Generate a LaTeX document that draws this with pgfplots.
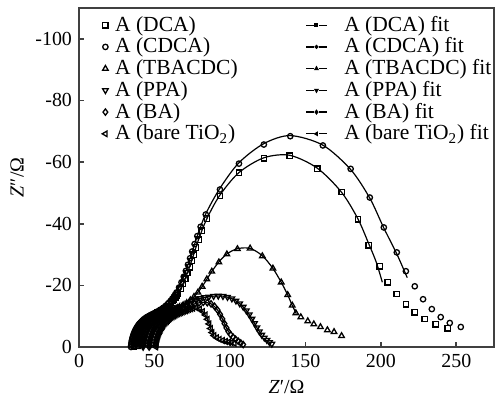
\documentclass[border=0pt]{standalone}
\usepackage{fontspec}
\setmainfont{Liberation Serif}
\usepackage{pgfplots}
\pgfplotsset{compat=1.18}

\pgfplotsset{
  datamark/.style={only marks, black, line width=0.65pt, mark size=1.35pt,
    mark options={fill=none}},
  fitline/.style={black, line width=0.6pt, no marks, smooth},
  dataleg/.style={legend image code/.code={\draw[##1] plot coordinates {(0cm,0cm)};}},
  fitleg/.style={legend image code/.code={%
    \draw[##1,mark=none] (0cm,0cm)--(0.13cm,0cm) (0.23cm,0cm)--(0.36cm,0cm);
    \draw[##1] plot coordinates {(0.18cm,0cm)};}},
}

\begin{document}
\begin{tikzpicture}
\begin{axis}[
  scale only axis, width=207.5bp, height=169.5bp,
  xmin=0, xmax=275, ymin=-110, ymax=0, y dir=reverse,
  xtick={0,50,...,250}, ytick={0,-20,...,-100},
  xtick pos=left, ytick pos=left,
  tick align=inside, major tick length=2.5pt,
  axis line style={black!75, line width=0.9pt},
  every tick/.style={black!75, line width=0.8pt},
  /pgf/number format/assume math mode=true,
  tick label style={font=\fontsize{10}{12}\selectfont},
  label style={font=\fontsize{10}{12}\selectfont},
  xlabel={\textit{Z}′/Ω},
  ylabel={\textit{Z}″/Ω},
  xlabel style={at={(axis description cs:0.5,-0.118)}, anchor=center},
  ylabel style={at={(axis description cs:-0.149,0.5)}, anchor=center},
  legend columns=2, legend cell align=left,
  legend style={at={(axis description cs:0.055,0.989)}, anchor=north west,
    draw=none, fill=none, inner sep=0pt, row sep=-2.2pt,
    font=\fontsize{10.8}{12}\selectfont,
    /tikz/column 1/.style={column sep=1.5bp},
    /tikz/column 2/.style={column sep=32bp},
    /tikz/column 3/.style={column sep=6.5bp}},
]
% legend entries
\addlegendimage{datamark, mark=square, dataleg}
\addlegendentry{A (DCA)}
\addlegendimage{black, line width=0.6pt, mark=square*, mark size=0.7pt, fitleg}
\addlegendentry{A (DCA) fit}
\addlegendimage{datamark, mark=o, dataleg}
\addlegendentry{A (CDCA)}
\addlegendimage{black, line width=0.6pt, mark=*, mark size=0.7pt, fitleg}
\addlegendentry{A (CDCA) fit}
\addlegendimage{datamark, mark=triangle, mark size=1.6pt, dataleg}
\addlegendentry{A (TBACDC)}
\addlegendimage{black, line width=0.6pt, mark=triangle*, mark size=0.9pt, fitleg}
\addlegendentry{A (TBACDC) fit}
\addlegendimage{datamark, mark=triangle, mark size=1.6pt, mark options={rotate=180,fill=none}, dataleg}
\addlegendentry{A (PPA)}
\addlegendimage{black, line width=0.6pt, mark=triangle*, mark size=0.9pt, mark options={rotate=180}, fitleg}
\addlegendentry{A (PPA) fit}
\addlegendimage{datamark, mark=diamond, mark size=1.6pt, dataleg}
\addlegendentry{A (BA)}
\addlegendimage{black, line width=0.6pt, mark=diamond*, mark size=0.9pt, fitleg}
\addlegendentry{A (BA) fit}
\addlegendimage{datamark, mark=triangle, mark size=1.6pt, mark options={rotate=90,fill=none}, dataleg}
\addlegendentry{A (bare TiO\textsubscript{2})}
\addlegendimage{black, line width=0.6pt, mark=triangle*, mark size=0.9pt, mark options={rotate=90}, fitleg}
\addlegendentry{A (bare TiO\textsubscript{2}) fit}

% A (DCA)
\addplot[datamark, mark=square, forget plot] coordinates {
(36.5,0)(36.55,-0.5)(36.7,-1)(36.85,-1.5)(37.0,-2)(37.25,-2.5)(37.5,-3)(37.8,-3.5)
(38.1,-4)(38.5,-4.5)(38.9,-5)(39.35,-5.45)(39.8,-5.9)(40.35,-6.35)(40.9,-6.8)(41.5,-7.2)
(42.1,-7.6)(42.8,-7.95)(43.5,-8.3)(44.25,-8.65)(45.0,-9.0)(45.8,-9.3)(46.6,-9.6)
(47.45,-9.85)(48.3,-10.1)(49.2,-10.35)(50.1,-10.6)(51.05,-10.85)(52,-11.1)(52.95,-11.35)
(53.9,-11.6)(54.85,-11.9)(55.8,-12.2)(56.8,-12.55)(57.8,-12.9)(58.85,-13.35)(59.9,-13.8)
(60.9,-14.35)(61.9,-14.9)(62.85,-15.5)(63.8,-16.1)(64.7,-16.75)(65.6,-17.4)
(67.3,-18.9)(68.9,-20.5)(70.4,-22.2)(71.8,-24.0)(73.2,-25.9)(74.6,-27.9)(76.0,-30.0)
(77.5,-32.3)(79.2,-34.8)(81.3,-37.7)(84.8,-41.7)(93.4,-49.0)(106,-56.6)(122.5,-61.2)
(139.7,-62.1)(158,-57.9)(174,-50.3)(184.8,-41.4)(192,-33)(199.3,-26.2)(204.6,-21)
(210.6,-17.2)(216.6,-13.9)(222.5,-11.3)(229,-9.1)(236.4,-7.4)(244.4,-6.1)};
\addplot[fitline, forget plot] coordinates {
(36.5,0)(37.5,-3)(39.8,-5.9)(43.5,-8.3)(48.3,-10.1)(53.9,-11.6)(59.9,-13.8)(65.6,-17.4)
(70.4,-22.2)(74.6,-27.9)(79.2,-34.8)(84.8,-41.7)(93.4,-49.3)(106,-56.6)(122.5,-61.4)
(139.7,-62.2)(158,-58)(174,-50.2)(184.8,-41.6)(192,-33.5)(197,-27.5)(201,-21)};

% A (CDCA)
\addplot[datamark, mark=o, forget plot] coordinates {
(34.5,0)(34.55,-0.5)(34.7,-1)(34.85,-1.5)(35.0,-2)(35.25,-2.5)(35.5,-3)(35.8,-3.5)
(36.1,-4)(36.5,-4.5)(36.9,-5)(37.35,-5.45)(37.8,-5.9)(38.35,-6.35)(38.9,-6.8)(39.5,-7.2)
(40.1,-7.6)(40.8,-7.95)(41.5,-8.3)(42.25,-8.65)(43.0,-9.0)(43.85,-9.3)(44.7,-9.6)
(45.6,-9.85)(46.5,-10.1)(47.45,-10.35)(48.4,-10.6)(49.4,-10.85)(50.4,-11.1)(51.4,-11.35)
(52.4,-11.6)(53.4,-11.9)(54.4,-12.2)(55.45,-12.55)(56.5,-12.9)(57.6,-13.4)(58.7,-13.9)
(59.75,-14.45)(60.8,-15.0)(61.8,-15.65)(62.8,-16.3)(63.7,-17)(64.6,-17.7)
(66.3,-19.3)(67.9,-21.0)(69.4,-22.8)(70.8,-24.7)(72.2,-26.7)(73.6,-28.8)(75.0,-31.0)
(76.6,-33.4)(78.4,-36.0)(80.6,-39.0)(84,-43)(93.4,-51.1)(106,-59.5)(122.5,-65.7)
(140,-68.4)(161.6,-65.4)(180,-57.8)(192.7,-48.5)(202,-38.8)(210.6,-30.7)(216.6,-24.6)
(222.5,-19.7)(228,-15.5)(233.8,-12.3)(239.7,-9.7)(245.7,-7.8)(253,-6.5)};
\addplot[fitline, forget plot] coordinates {
(34.5,0)(35.5,-3)(37.8,-5.9)(41.5,-8.3)(46.5,-10.1)(52.4,-11.6)(58.7,-13.9)(64.6,-17.7)
(69.4,-22.8)(73.6,-28.8)(78.4,-36)(84,-43.2)(93.4,-51.5)(106,-59.8)(122.5,-66)
(140,-68.6)(161.6,-65.5)(180,-57.6)(192.7,-48.3)(202,-38.6)(210.6,-30.2)(217.5,-22.5)};

% A (TBACDC)
\addplot[datamark, mark=triangle, mark size=1.6pt, forget plot] coordinates {
(39,0)(39.05,-0.5)(39.2,-1)(39.35,-1.5)(39.5,-2)(39.75,-2.5)(40,-3)(40.3,-3.5)(40.6,-4)
(41,-4.5)(41.4,-5)(41.85,-5.45)(42.3,-5.9)(42.85,-6.35)(43.4,-6.8)(44,-7.2)(44.6,-7.6)
(45.3,-7.95)(46,-8.3)(46.75,-8.65)(47.5,-9)(48.25,-9.3)(49,-9.6)(49.8,-9.85)(50.6,-10.1)
(51.45,-10.3)(52.3,-10.5)(53.2,-10.7)(54.1,-10.9)(55.05,-11.05)(56,-11.2)(57,-11.35)
(58,-11.5)(59.05,-11.65)(60.1,-11.8)(61.15,-11.95)(62.2,-12.1)(63.3,-12.3)(64.4,-12.5)
(65.5,-12.75)(66.6,-13)(69,-13.6)(71.4,-14.3)(73.8,-15.2)
(76.2,-16.3)(78.8,-17.7)(81.6,-19.6)(84.7,-22)(88,-24.5)(92.7,-27.5)(98,-30.1)
(105,-31.8)(113.4,-32)(121.5,-29.5)(128.5,-25.5)(134,-21)(138.3,-16.9)(141.3,-13.5)
(143.7,-11)(147,-9.7)(151.6,-8.4)(155.6,-7.4)(160,-6.5)(164.6,-5.5)(169,-4.9)(174,-3.6)};
\addplot[fitline, forget plot] coordinates {
(39,0)(40,-3)(42.3,-5.9)(46,-8.3)(50.6,-10.1)(56,-11.2)(62.2,-12.1)(69,-13.6)(76.2,-16.3)
(81.6,-19.6)(88,-24.5)(92.7,-27.6)(98,-30.2)(105,-31.9)(113.4,-32)(121.5,-29.6)
(128.5,-25.5)(134,-21)(138.3,-16.9)(141.3,-13.5)(144,-10.8)};

% A (PPA)
\addplot[datamark, mark=triangle, mark size=1.6pt, mark options={rotate=180,fill=none}, forget plot] coordinates {
(42.5,0)(42.55,-0.5)(42.7,-1)(42.85,-1.5)(43,-2)(43.25,-2.5)(43.5,-3)(43.8,-3.5)(44.1,-4)
(44.5,-4.5)(44.9,-5)(45.35,-5.45)(45.8,-5.9)(46.35,-6.35)(46.9,-6.8)(47.5,-7.2)(48.1,-7.6)
(48.8,-7.95)(49.5,-8.3)(50.25,-8.65)(51,-9)(51.73,-9.3)(52.45,-9.6)(53.23,-9.85)(54,-10.1)
(54.83,-10.3)(55.65,-10.5)(56.53,-10.7)(57.4,-10.9)(58.33,-11.1)(59.25,-11.3)(60.23,-11.5)
(61.2,-11.7)(62.23,-11.9)(63.25,-12.1)(64.28,-12.35)(65.3,-12.6)(66.38,-12.85)(67.45,-13.1)
(69.73,-13.7)(72.1,-14.3)(74.7,-14.9)(77.4,-15.4)
(80.2,-15.8)(83.1,-16.1)(86.1,-16.3)(89.2,-16.5)(92.3,-16.6)(95.4,-16.5)(98.4,-16.2)
(101.3,-15.7)(104,-15)(106.5,-14.1)(108.8,-13)(110.9,-11.8)(112.8,-10.5)(114.6,-9.1)
(116.3,-7.7)(117.9,-6.3)(119.5,-5)(121.1,-3.9)(122.8,-3)(124.5,-2.2)(126.2,-1.5)(127.8,-1)};
\addplot[fitline, forget plot] coordinates {
(42.5,0)(43.5,-3)(45.8,-5.9)(49.5,-8.3)(54,-10.1)(59.25,-11.3)(65.3,-12.6)(72.1,-14.3)
(80.2,-15.8)(89.2,-16.5)(95.4,-16.5)(101.3,-15.7)(106.5,-14.1)(110.9,-11.8)(114.6,-9.1)
(117.9,-6.3)(121.1,-3.9)};

% A (BA)
\addplot[datamark, mark=diamond, mark size=1.6pt, forget plot] coordinates {
(46.5,0)(46.55,-0.5)(46.7,-1)(46.85,-1.5)(47,-2)(47.25,-2.5)(47.5,-3)(47.8,-3.5)(48.1,-4)
(48.5,-4.5)(48.9,-5)(49.35,-5.45)(49.8,-5.9)(50.35,-6.35)(50.9,-6.8)(51.5,-7.2)(52.1,-7.6)
(52.8,-7.95)(53.5,-8.3)(54.25,-8.65)(55,-9)(55.73,-9.3)(56.45,-9.6)(57.23,-9.85)(58,-10.1)
(58.83,-10.35)(59.65,-10.6)(60.53,-10.8)(61.4,-11)(62.33,-11.2)(63.25,-11.4)(64.23,-11.6)
(65.2,-11.8)(66.23,-12)(67.25,-12.2)(69.4,-12.7)(71.65,-13.2)(74,-13.6)(76.7,-14)
(79.5,-14.3)(82.3,-14.5)(85,-14.4)(87.5,-14)(89.8,-13.2)(91.8,-12)(93.5,-10.6)(95,-9.1)
(96.4,-7.6)(97.7,-6.2)(99,-5)(100.5,-4)(102.1,-3.2)(103.8,-2.5)(105.5,-1.9)(107.2,-1.3)
(108.8,-0.8)};
\addplot[fitline, forget plot] coordinates {
(46.5,0)(47.5,-3)(49.8,-5.9)(53.5,-8.3)(58,-10.1)(63.25,-11.4)(69.4,-12.7)(76.7,-14)
(82.3,-14.5)(87.5,-14)(91.8,-12)(95,-9.1)(97.7,-6.2)(100,-4.3)};

% A (bare TiO2)
\addplot[datamark, mark=triangle, mark size=1.6pt, mark options={rotate=90,fill=none}, forget plot] coordinates {
(51,0)(51.05,-0.5)(51.2,-1)(51.35,-1.5)(51.5,-2)(51.75,-2.5)(52,-3)(52.3,-3.5)(52.6,-4)
(53,-4.5)(53.4,-5)(53.85,-5.45)(54.3,-5.9)(54.85,-6.35)(55.4,-6.8)(56,-7.2)(56.6,-7.6)
(57.3,-7.95)(58,-8.3)(58.75,-8.65)(59.5,-9)(60.3,-9.3)(61.1,-9.6)(61.95,-9.85)(62.8,-10.1)
(63.7,-10.35)(64.6,-10.6)(65.55,-10.8)(66.5,-11)(67.5,-11.2)(68.5,-11.4)(69.55,-11.6)
(70.6,-11.8)(71.7,-12)(72.8,-12.2)(74.1,-12.4)(75.4,-12.6)(77.7,-12.7)(80,-12.3)
(82,-11.5)(83.7,-10.4)(85.1,-9)(86.2,-7.5)(87.2,-6)(88.2,-4.7)(89.5,-3.7)(91.2,-3)
(93.1,-2.5)(95.1,-2.1)(97.1,-1.8)(99.1,-1.6)(101,-1.4)(103,-1.2)};
\addplot[fitline, forget plot] coordinates {
(51,0)(52,-3)(54.3,-5.9)(58,-8.3)(62.8,-10.1)(68.5,-11.4)(72.8,-12.2)(77.7,-12.7)(82,-11.5)
(85.1,-9)(87.2,-6)(89,-4.2)};
\end{axis}
\path (current axis.south west) ++(-39.5bp,-28bp);
\path (current axis.north east) ++(1.5bp,4bp);
\end{tikzpicture}
\end{document}
